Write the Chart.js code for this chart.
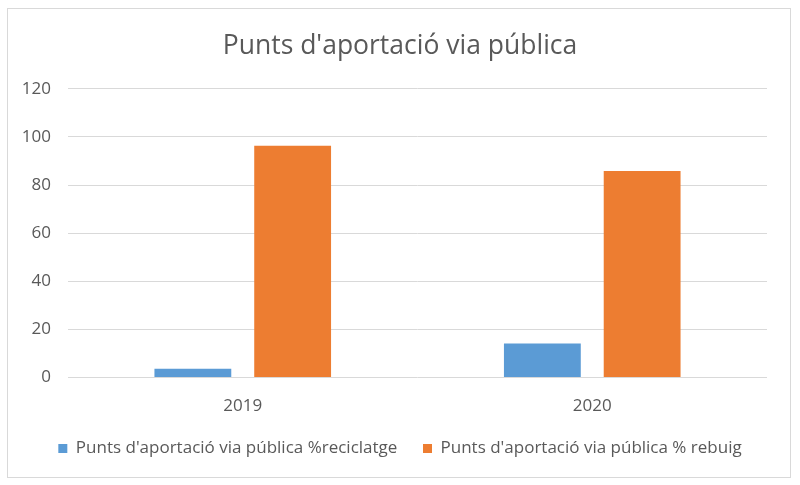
<!DOCTYPE html>
<html>
<head>
<meta charset="utf-8">
<script src="https://cdn.jsdelivr.net/npm/chart.js@4/dist/chart.umd.min.js"></script>
<style>
html,body{margin:0;padding:0;background:#fff;}
#wrap{width:800px;height:485px;position:relative;}
</style>
</head>
<body>
<div id="wrap"><canvas id="c" width="800" height="485"></canvas></div>
<script>
const categories = ["2019", "2020"];
const seriesNames = ["Punts d'aportació via pública %reciclatge", "Punts d'aportació via pública % rebuig"];
const reciclatge = [3.7, 14.2];
const rebuig = [96.3, 85.8];
const yTicks = [0, 20, 40, 60, 80, 100, 120];

const FONT = "'Open Sans', sans-serif";
const TXT = '#595959';

const borderPlugin = {
  id: 'outerBorder',
  beforeDraw(chart) {
    const ctx = chart.ctx;
    ctx.save();
    ctx.fillStyle = '#fff';
    ctx.fillRect(0, 0, chart.width, chart.height);
    ctx.strokeStyle = '#D9D9D9';
    ctx.lineWidth = 1;
    ctx.strokeRect(7.5, 8.5, 783, 469);
    ctx.restore();
  }
};

new Chart(document.getElementById('c'), {
  type: 'bar',
  data: {
    labels: categories,
    datasets: [
      { label: seriesNames[0], data: reciclatge, backgroundColor: '#5B9BD5', barPercentage: 0.77, categoryPercentage: 0.571 },
      { label: seriesNames[1], data: rebuig, backgroundColor: '#ED7D31', barPercentage: 0.77, categoryPercentage: 0.571 }
    ]
  },
  options: {
    responsive: false,
    animation: false,
    devicePixelRatio: 1,
    layout: { padding: { left: 0, right: 0, top: 31, bottom: 18 } },
    plugins: {
      title: {
        display: true,
        text: "Punts d'aportació via pública",
        color: TXT,
        font: { family: FONT, size: 26.5, weight: 'normal' },
        padding: { top: 0, bottom: 26 }
      },
      legend: {
        position: 'bottom',
        labels: {
          color: TXT,
          font: { family: FONT, size: 17 },
          boxWidth: 9,
          boxHeight: 9,
          padding: 14,
          generateLabels(chart) {
            const items = Chart.defaults.plugins.legend.labels.generateLabels(chart);
            items.forEach((it, i) => { if (i < items.length - 1) it.text = it.text + '  \u2009'; });
            return items;
          }
        }
      },
      tooltip: { enabled: false }
    },
    scales: {
      x: {
        grid: { display: false },
        border: { display: false },
        ticks: { color: TXT, font: { family: FONT, size: 17 }, padding: 10 }
      },
      y: {
        min: 0, max: 120,
        afterFit(s) { s.width = 68; },
        afterBuildTicks(s) { s.ticks = yTicks.map(v => ({ value: v })); },
        grid: { color: '#D9D9D9', drawTicks: false },
        border: { display: false },
        ticks: { color: TXT, font: { family: FONT, size: 17 }, padding: 17 }
      },
      yRight: {
        position: 'right',
        display: true,
        afterFit(s) { s.width = 33; },
        grid: { display: false, drawTicks: false },
        border: { display: false },
        ticks: { display: false }
      }
    }
  },
  plugins: [borderPlugin]
});
</script>
</body>
</html>
